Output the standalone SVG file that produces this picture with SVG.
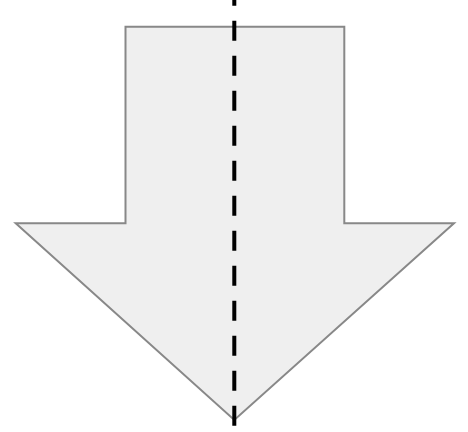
<svg xmlns="http://www.w3.org/2000/svg" width="468" height="432" viewBox="0 0 468 432">
<style>
.arrow{fill:#efefef;stroke:#888888;stroke-width:2;stroke-linejoin:miter}
.axis{stroke:#000000;stroke-width:4;stroke-dasharray:20 15;stroke-dashoffset:14.3;fill:none}
</style>
<rect width="468" height="432" fill="#ffffff"/>
<g id="arrow">
<polygon class="arrow" points="125.5,26.7 344.3,26.7 344.3,223.3 454,223.3 234.3,420 15.7,223.3 125.5,223.3"/>
</g>
<g id="connectors">
<line class="axis" x1="234.3" y1="0" x2="234.3" y2="425.7"/>
</g>
</svg>
